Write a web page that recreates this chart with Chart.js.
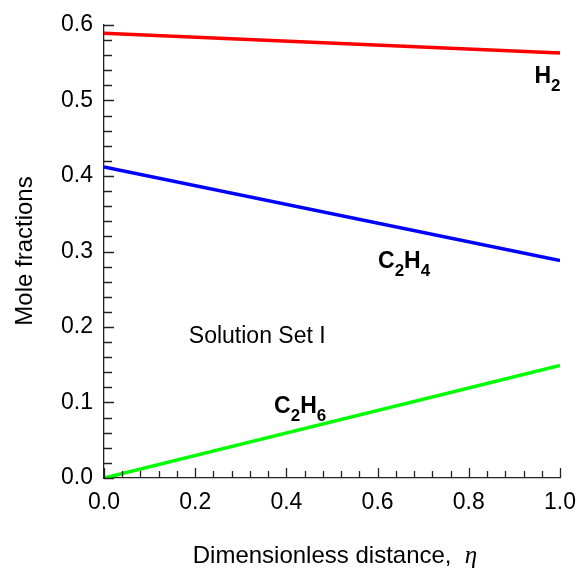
<!DOCTYPE html>
<html lang="en">
<head>
<meta charset="UTF-8" />
<title>Mole fractions - Solution Set I</title>
<script src="https://cdn.jsdelivr.net/npm/chart.js"></script>
<style>
  body { margin: 0; background: #fff; }
  canvas { display: block; }
</style>
</head>
<body>
<canvas id="chart" width="578" height="568"></canvas>
<script>
// values (straight lines, endpoints)
const etaValues = [0, 1];
const h2Values = [0.589, 0.563];
const c2h4Values = [0.412, 0.288];
const c2h6Values = [0.0, 0.149];

const xTicks = [0, 0.2, 0.4, 0.6, 0.8, 1.0];
const yTicks = [0, 0.1, 0.2, 0.3, 0.4, 0.5, 0.6];

// text labels inside the plot: [main, sub, main, sub], anchor in data units
const labels = [
  { parts: ['H', '2'], x: 0.944, y: 0.523 },
  { parts: ['C', '2', 'H', '4'], x: 0.601, y: 0.278 },
  { parts: ['C', '2', 'H', '6'], x: 0.373, y: 0.086 }
];
const noteText = 'Solution Set I';
const notePos = { x: 0.186, y: 0.179 };

const FONT = "'Liberation Sans', Arial, sans-serif";

function pts(ys) {
  return etaValues.map((x, i) => ({ x: x, y: ys[i] }));
}

// axes ticks (inward), titles and labels
const decor = {
  id: 'decor',
  afterDraw(chart) {
    const ctx = chart.ctx;
    const xs = chart.scales.x, ys = chart.scales.y;
    const a = chart.chartArea;
    ctx.save();
    ctx.strokeStyle = '#222';
    ctx.lineWidth = 1.3;
    ctx.beginPath();
    // y ticks, minor every 0.02
    for (let i = 0; i <= 30; i++) {
      const py = Math.round(ys.getPixelForValue(i * 0.02)) + 0.5;
      const len = i % 5 === 0 ? 10 : 8;
      ctx.moveTo(a.left, py);
      ctx.lineTo(a.left + len, py);
    }
    // x ticks, minor every 0.04
    for (let i = 0; i <= 25; i++) {
      const px = Math.round(xs.getPixelForValue(i * 0.04)) + 0.5;
      const len = i % 5 === 0 ? 10 : 7;
      ctx.moveTo(px, a.bottom);
      ctx.lineTo(px, a.bottom - len);
    }
    ctx.stroke();

    ctx.fillStyle = '#000';
    // chemical labels with subscripts
    labels.forEach(l => {
      let px = xs.getPixelForValue(l.x);
      const py = ys.getPixelForValue(l.y);
      l.parts.forEach((p, i) => {
        const sub = i % 2 === 1;
        ctx.font = 'bold ' + (sub ? 17 : 23) + 'px ' + FONT;
        ctx.textAlign = 'left';
        ctx.textBaseline = 'alphabetic';
        ctx.fillText(p, px, sub ? py + 8 : py);
        px += ctx.measureText(p).width;
      });
    });

    ctx.font = '23px ' + FONT;
    ctx.textAlign = 'left';
    ctx.fillText(noteText, xs.getPixelForValue(notePos.x), ys.getPixelForValue(notePos.y));

    // y title
    ctx.save();
    ctx.translate(32, 251);
    ctx.rotate(-Math.PI / 2);
    ctx.textAlign = 'center';
    ctx.font = '24px ' + FONT;
    ctx.fillText('Mole fractions', 0, 0);
    ctx.restore();

    // x title with italic eta
    const t1 = 'Dimensionless distance,  ';
    ctx.font = '24px ' + FONT;
    const w1 = ctx.measureText(t1).width;
    ctx.font = "italic 25px 'Liberation Serif', 'DejaVu Serif', serif";
    const w2 = ctx.measureText('\u03b7').width;
    let sx = 335 - (w1 + w2) / 2;
    ctx.font = '24px ' + FONT;
    ctx.fillText(t1, sx, 563);
    ctx.font = "italic 25px 'Liberation Serif', 'DejaVu Serif', serif";
    ctx.fillText('\u03b7', sx + w1, 563);
    ctx.restore();
  }
};

new Chart(document.getElementById('chart'), {
  type: 'line',
  data: {
    datasets: [
      { label: 'H2', data: pts(h2Values), borderColor: '#ff0000' },
      { label: 'C2H4', data: pts(c2h4Values), borderColor: '#0000ff' },
      { label: 'C2H6', data: pts(c2h6Values), borderColor: '#00ff00' }
    ]
  },
  options: {
    responsive: false,
    animation: false,
    layout: { padding: { top: 25, right: 18, left: 0, bottom: 0 } },
    elements: {
      line: { borderWidth: 3.5, tension: 0 },
      point: { radius: 0 }
    },
    plugins: { legend: { display: false }, tooltip: { enabled: false } },
    scales: {
      x: {
        type: 'linear', min: 0, max: 1,
        afterBuildTicks: s => { s.ticks = xTicks.map(v => ({ value: v })); },
        afterFit: s => { s.height = 90; s.paddingLeft = 0; s.paddingRight = 0; },
        grid: { display: false, drawTicks: false },
        border: { display: true, color: '#222', width: 1.3 },
        ticks: {
          padding: 11, color: '#000', maxRotation: 0,
          font: { family: FONT, size: 23 },
          callback: v => v.toFixed(1)
        }
      },
      y: {
        min: 0, max: 0.6,
        afterBuildTicks: s => { s.ticks = yTicks.map(v => ({ value: v })); },
        afterFit: s => { s.width = 104; s.paddingTop = 0; s.paddingBottom = 0; },
        grid: { display: false, drawTicks: false },
        border: { display: true, color: '#222', width: 1.3 },
        ticks: {
          padding: 11, color: '#000',
          font: { family: FONT, size: 23 },
          callback: v => v.toFixed(1)
        }
      }
    }
  },
  plugins: [decor]
});
</script>
</body>
</html>
